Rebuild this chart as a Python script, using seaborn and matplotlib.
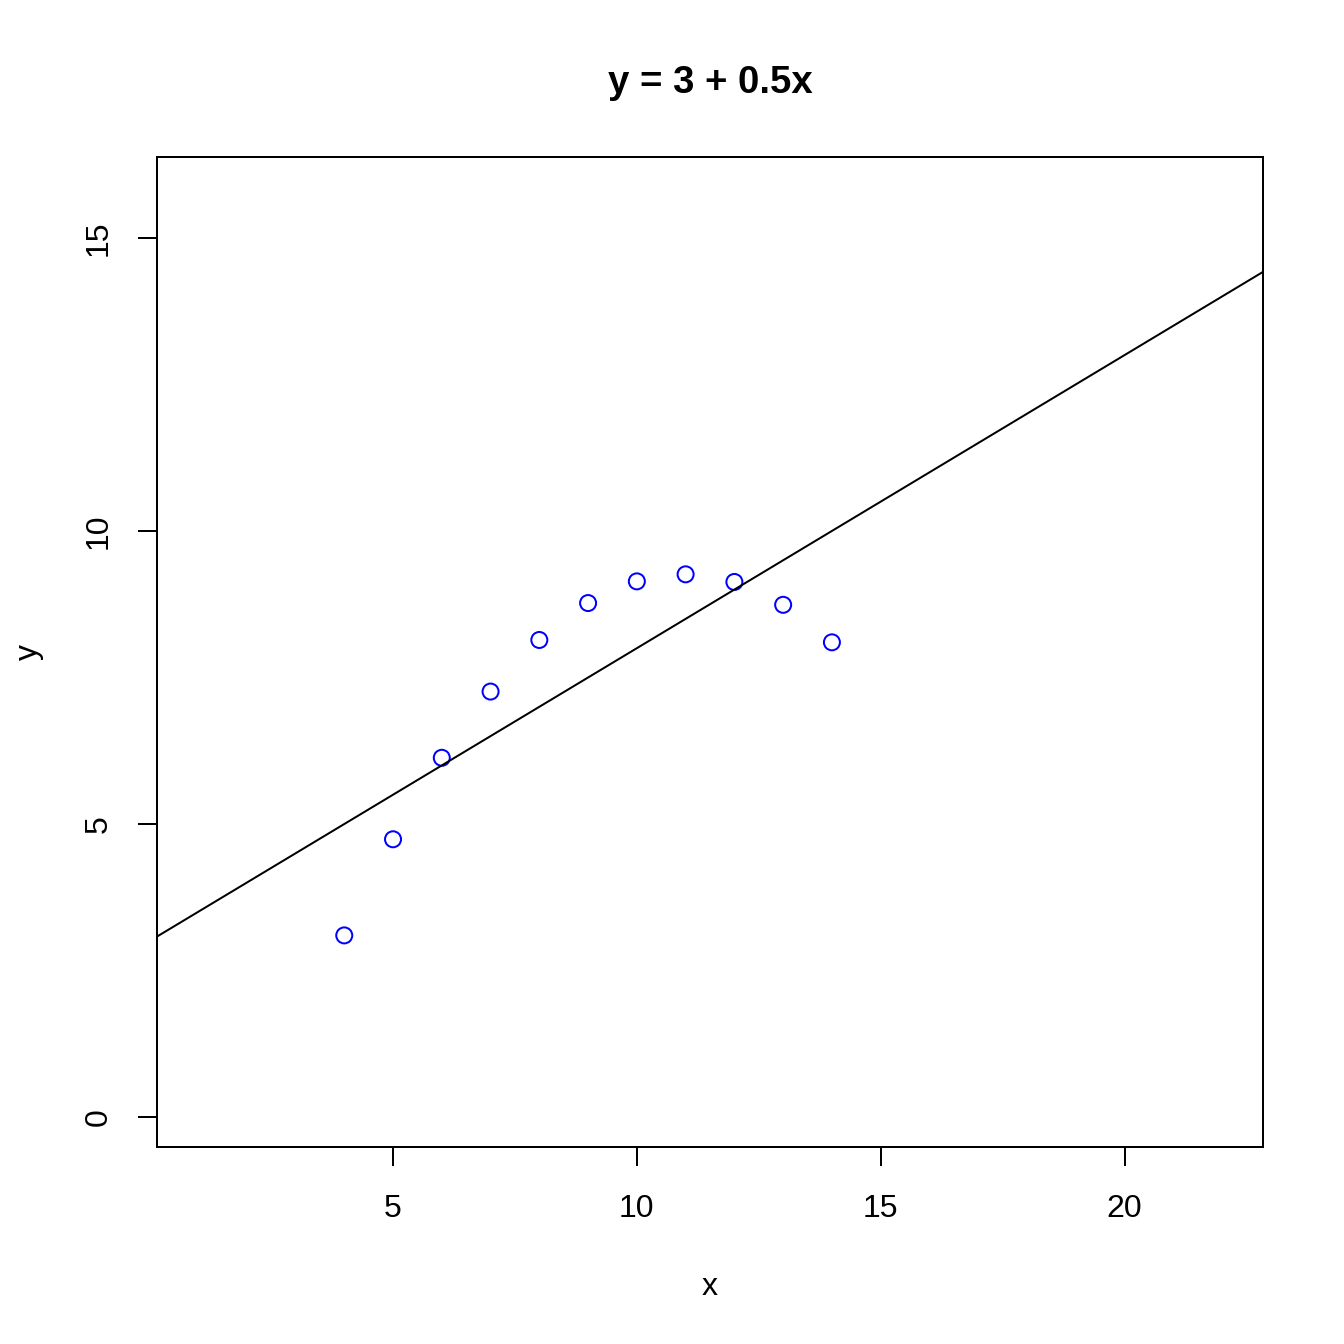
import matplotlib
matplotlib.use("Agg")
import matplotlib.pyplot as plt
import seaborn as sns
import pandas as pd

x_vals = [4, 5, 6, 7, 8, 9, 10, 11, 12, 13, 14]
y_vals = [3.10, 4.74, 6.13, 7.26, 8.14, 8.77, 9.14, 9.26, 9.13, 8.74, 8.10]
intercept = 3.0
slope = 0.5
x_ticks = [5, 10, 15, 20]
y_ticks = [0, 5, 10, 15]
title = "y = 3 + 0.5x"

sns.set_style("white")
plt.rcParams['font.family'] = ['Liberation Sans', 'DejaVu Sans']
plt.rcParams['font.size'] = 12
plt.rcParams['text.color'] = 'black'
plt.rcParams['axes.labelcolor'] = 'black'
plt.rcParams['xtick.color'] = 'black'
plt.rcParams['ytick.color'] = 'black'

df = pd.DataFrame({"x": x_vals, "y": y_vals})

fig = plt.figure(figsize=(7, 7), dpi=192)
ax = fig.add_axes([157/1344, 1 - 1147/1344, (1263-157)/1344, (1147-157)/1344])

sns.scatterplot(data=df, x="x", y="y", ax=ax, marker="o", s=36,
                facecolor="none", edgecolor="blue", linewidth=0.75)
ax.axline((0, intercept), slope=slope, color="black", linewidth=0.75)

ax.set_xlim(0.16, 22.84)
ax.set_ylim(-0.51, 16.38)
ax.set_xticks(x_ticks)
ax.set_yticks(y_ticks)
ax.set_yticklabels([str(v) for v in y_ticks], rotation=90, va="center")
ax.tick_params(axis="x", direction="out", length=7.2, width=0.75,
               colors="black", labelsize=12, pad=10.5, bottom=True)
ax.tick_params(axis="y", direction="out", length=7.2, width=0.75,
               colors="black", labelsize=12, pad=9, left=True)
for sp in ax.spines.values():
    sp.set_color("black")
    sp.set_linewidth(0.75)

ax.set_xlabel("x", fontsize=12, labelpad=18, color="black")
ax.set_ylabel("y", fontsize=12, labelpad=15, color="black")
ax.set_title(title, fontsize=14.4, fontweight="bold", pad=24, color="black")

fig.savefig("out.png", dpi=192)
